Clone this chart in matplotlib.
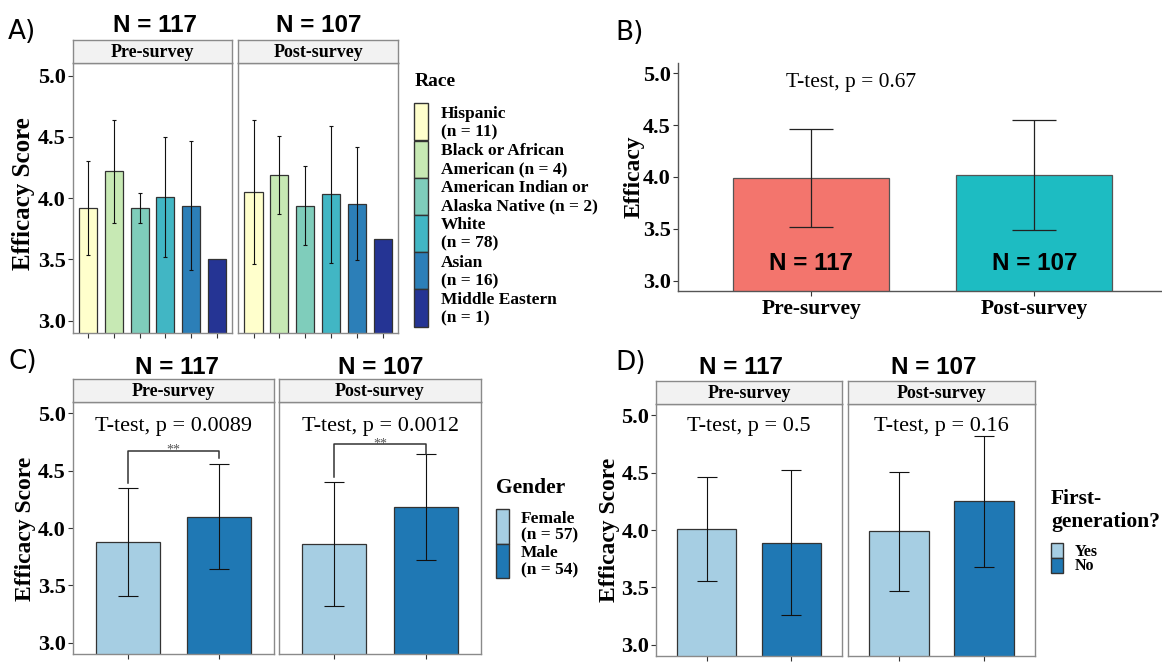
import numpy as np
import matplotlib.pyplot as plt
from matplotlib.patches import Rectangle

# values
surveys = ["Pre-survey", "Post-survey"]

race_names = ["Hispanic\n(n = 11)", "Black or African\nAmerican (n = 4)",
              "American Indian or\nAlaska Native (n = 2)", "White\n(n = 78)",
              "Asian\n(n = 16)", "Middle Eastern\n(n = 1)"]
race_colors = ["#ffffcc", "#c7e9b4", "#7fcdbb", "#41b6c4", "#2c7fb8", "#253494"]
race_pre = [3.92, 4.22, 3.92, 4.01, 3.94, 3.50]
race_pre_sd = [0.38, 0.42, 0.12, 0.49, 0.53, np.nan]
race_post = [4.05, 4.19, 3.94, 4.03, 3.955, 3.67]
race_post_sd = [0.59, 0.32, 0.32, 0.56, 0.46, np.nan]

all_mean = [3.99, 4.02]
all_sd = [0.47, 0.53]
all_n = ["N = 117", "N = 107"]
all_colors = ["#f3756d", "#1dbcc2"]
all_p = "T-test, p = 0.67"

gender_names = ["Female\n(n = 57)", "Male\n(n = 54)"]
gender_pre = [3.88, 4.10]
gender_pre_sd = [0.47, 0.46]
gender_post = [3.86, 4.185]
gender_post_sd = [0.54, 0.465]
gender_p = ["T-test, p = 0.0089", "T-test, p = 0.0012"]
gender_bracket = [4.67, 4.73]
gender_bracket_ends = [(4.39, 4.61), (4.445, 4.65)]

firstgen_names = ["Yes", "No"]
firstgen_pre = [4.01, 3.89]
firstgen_pre_sd = [0.455, 0.63]
firstgen_post = [3.99, 4.25]
firstgen_post_sd = [0.52, 0.57]
firstgen_p = ["T-test, p = 0.5", "T-test, p = 0.16"]

blues = ["#a6cee3", "#1f78b4"]
yticks = [3.0, 3.5, 4.0, 4.5, 5.0]

W, H = 1162, 664
SERIF = "Liberation Serif"
SANS = "Liberation Sans"
BORDER = "#8a8a8a"

fig = plt.figure(figsize=(W / 100, H / 100), dpi=100)

# overlay in pixel coords for panel letters, N labels and legends
ov = fig.add_axes([0, 0, 1, 1])
ov.set_xlim(0, W)
ov.set_ylim(H, 0)
ov.axis("off")


def add_px(x0, y0, x1, y1):
    return fig.add_axes([x0 / W, 1 - y1 / H, (x1 - x0) / W, (y1 - y0) / H])


def facet(x0, x1, ytop, ybot, strip_h, title, means, sds, colors, cap, left):
    ax = add_px(x0, ytop, x1, ybot)
    x = np.arange(1, len(means) + 1)
    m = np.asarray(means, float)
    sd = np.asarray(sds, float)
    ok = np.isfinite(sd)
    ax.bar(x, m, width=0.7, color=colors, edgecolor="#333333", linewidth=0.9, zorder=2)
    ax.errorbar(x[ok], m[ok], yerr=sd[ok], fmt="none", ecolor="#111111",
                elinewidth=0.8, capsize=cap, capthick=0.8, zorder=3)
    ax.set_xlim(0.4, len(means) + 0.6)
    ax.set_ylim(2.9, 5.1)
    ax.set_xticks(x)
    ax.set_xticklabels([])
    ax.set_yticks(yticks)
    if left:
        ax.set_yticklabels([f"{v:.1f}" for v in yticks], fontfamily=SERIF,
                           fontweight="bold", fontsize=16)
    else:
        ax.tick_params(axis="y", left=False, labelleft=False)
    ax.tick_params(length=3.5, width=0.8, color="#333333", pad=1.5)
    for s in ax.spines.values():
        s.set_color(BORDER)
        s.set_linewidth(1.0)
    st = add_px(x0, ytop - strip_h, x1, ytop)
    st.set_facecolor("#f2f2f2")
    st.set_xticks([])
    st.set_yticks([])
    for s in st.spines.values():
        s.set_color(BORDER)
        s.set_linewidth(1.0)
    st.text(0.5, 0.45, title, ha="center", va="center", fontfamily=SERIF,
            fontweight="bold", fontsize=13, transform=st.transAxes)
    return ax


def legend(title, title_xy, names, colors, kx, ktop, kw, kh, tx, fs, ls=1.2):
    ov.text(title_xy[0], title_xy[1], title, ha="left", va="center", fontfamily=SERIF,
            fontweight="bold", fontsize=fs[0], linespacing=1.2)
    for i, (nm, c) in enumerate(zip(names, colors)):
        y0 = ktop + i * kh
        ov.add_patch(Rectangle((kx, y0), kw, kh, facecolor=c, edgecolor="#333333", lw=1.0))
        ov.text(tx, y0 + kh / 2 + 1, nm, ha="left", va="center", fontfamily=SERIF,
                fontweight="bold", fontsize=fs[1], linespacing=ls)


def letter(x, y, s):
    ov.text(x, y, s, ha="left", va="center", fontfamily="DejaVu Sans", fontsize=19)


def nlab(x, y, s):
    ov.text(x, y, s, ha="center", va="center", fontfamily=SANS, fontweight="bold",
            fontsize=17.5)


# ---- panel A ----
letter(8, 32, "A)")
facet(72.7, 232.3, 63.3, 333, 23.3, surveys[0], race_pre, race_pre_sd, race_colors, 1.5, True)
facet(238, 398.3, 63.3, 333, 23.3, surveys[1], race_post, race_post_sd, race_colors, 1.5, False)
nlab(155, 25, all_n[0])
nlab(319, 25, all_n[1])
ov.text(24, 194, "Efficacy Score", rotation=90, ha="center", va="center",
        fontfamily=SERIF, fontweight="bold", fontsize=18)
legend("Race", (415, 82), race_names, race_colors, 414, 103.3, 13.7, 37.2, 440.7, (14, 12.5))

# ---- panel B ----
letter(615, 33, "B)")
axb = add_px(677.6, 63, 1168, 291)
xb = np.arange(1, 3)
axb.bar(xb, all_mean, width=0.7, color=all_colors, edgecolor="#555555", linewidth=0.9, zorder=2)
axb.errorbar(xb, all_mean, yerr=all_sd, fmt="none", ecolor="#222222", elinewidth=0.9,
             capsize=16, capthick=0.9, zorder=3)
axb.set_xlim(0.4, 2.6)
axb.set_ylim(2.9, 5.1)
axb.set_yticks(yticks)
axb.set_yticklabels([f"{v:.1f}" for v in yticks], fontfamily=SERIF, fontweight="bold", fontsize=16)
axb.set_xticks(xb)
axb.set_xticklabels(surveys, fontfamily=SERIF, fontweight="bold", fontsize=15.5)
axb.tick_params(length=3.5, width=0.8, color="#333333", pad=1.5)
axb.tick_params(axis="x", pad=2)
for side in ["top", "right"]:
    axb.spines[side].set_visible(False)
for side in ["left", "bottom"]:
    axb.spines[side].set_color("#555555")
    axb.spines[side].set_linewidth(1.0)
axb.text(1.18, 4.91, all_p, ha="center", va="center", fontfamily=SERIF, fontsize=15.5)
for xi, s in zip(xb, all_n):
    axb.text(xi, 3.17, s, ha="center", va="center", fontfamily=SANS, fontweight="bold",
             fontsize=17.5, zorder=4)
ov.text(634, 177, "Efficacy", rotation=90, ha="center", va="center",
        fontfamily=SERIF, fontweight="bold", fontsize=17)

# ---- panel C ----
letter(8, 362, "C)")
c_x = [(72.7, 274.4), (279, 481)]
c_means = [gender_pre, gender_post]
c_sds = [gender_pre_sd, gender_post_sd]
for i in range(2):
    ax = facet(c_x[i][0], c_x[i][1], 402, 654, 23, surveys[i], c_means[i], c_sds[i],
               blues, 7, i == 0)
    ax.text(1.5, 4.89, gender_p[i], ha="center", va="center", fontfamily=SERIF, fontsize=16)
    yb = gender_bracket[i]
    lo, hi = gender_bracket_ends[i]
    ax.plot([1, 1, 2, 2], [lo, yb, yb, hi], color="#333333", lw=1.1, zorder=4)
    ax.text(1.5, yb - 0.05, "**", ha="center", va="bottom", fontfamily=SERIF,
            fontsize=10, color="#555555")
nlab(177, 367, all_n[0])
nlab(381, 367, all_n[1])
ov.text(26, 529, "Efficacy Score", rotation=90, ha="center", va="center",
        fontfamily=SERIF, fontweight="bold", fontsize=17)
legend("Gender", (496, 488), gender_names, blues, 496, 509, 13, 34.5, 521, (15.5, 12.5), 1.08)

# ---- panel D ----
letter(615, 363, "D)")
d_x = [(656, 842), (848, 1035)]
d_means = [firstgen_pre, firstgen_post]
d_sds = [firstgen_pre_sd, firstgen_post_sd]
for i in range(2):
    ax = facet(d_x[i][0], d_x[i][1], 404, 656, 23.5, surveys[i], d_means[i], d_sds[i],
               blues, 7, i == 0)
    ax.text(1.5, 4.90, firstgen_p[i], ha="center", va="center", fontfamily=SERIF, fontsize=16)
nlab(741, 367, all_n[0])
nlab(934, 368, all_n[1])
ov.text(609, 530, "Efficacy Score", rotation=90, ha="center", va="center",
        fontfamily=SERIF, fontweight="bold", fontsize=17)
legend("First-\ngeneration?", (1051, 510), firstgen_names, blues, 1051, 543, 11.6, 15,
       1075, (15.5, 11.5))

fig.savefig("out.png", dpi=100)
